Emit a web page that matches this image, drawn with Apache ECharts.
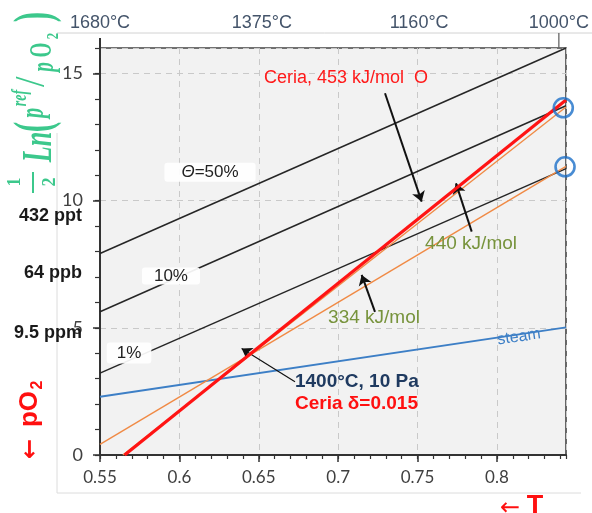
<!DOCTYPE html>
<html><head><meta charset="utf-8">
<script src="https://cdn.jsdelivr.net/npm/echarts@6/dist/echarts.min.js"></script>
<style>html,body{margin:0;padding:0;background:#fff;}#c{width:592px;height:513px;}</style>
</head><body><div id="c"></div>
<script>
// ---- data (x = scaled 1/T, y = 1/2 ln(pref/pO2)) ----
const X_MIN = 0.55, X_MAX = 0.8435, Y_MIN = 0, Y_MAX = 16;
const theta50 = [[0.55, 7.92], [0.8435, 16.0]];
const theta10 = [[0.55, 5.63], [0.8435, 13.73]];
const theta1  = [[0.55, 3.22], [0.8435, 11.26]];
const ceria453 = [[0.5655, 0], [0.8435, 13.96]];
const fit440 = [[0.5644, 0], [0.8435, 13.68]];
const fit334 = [[0.55, 0.42], [0.8435, 11.35]];
const steam = [[0.55, 2.29], [0.8435, 5.02]];
const circlePts = [[0.8418, 13.65], [0.8429, 11.33]];
const topTickLabels = ['1680°C', '1375°C', '1160°C', '1000°C'];
const topTickValues = [0.55, 0.652, 0.751, 0.839];
const pO2Labels = ['432 ppt', '64 ppb', '9.5 ppm'];
const pO2Values = [9.39, 7.15, 4.8];

// ---- annotations ----
const arrows = [
  { from: [0.7295, 14.22], to: [0.7526, 9.96], w: 2 },
  { from: [0.7841, 8.78], to: [0.7742, 10.68], w: 2 },
  { from: [0.7232, 5.63], to: [0.7148, 7.08], w: 2 },
  { from: [0.6728, 2.88], to: [0.6392, 4.19], w: 1.2 }
];

const SANS = '"Liberation Sans", Arial, sans-serif';
const ARROWF = '"DejaVu Sans", sans-serif';
const chart = echarts.init(document.getElementById('c'), null, { renderer: 'canvas' });

function lineSeries(name, data, color, width, z) {
  return { name, type: 'line', data, showSymbol: false, silent: true, z: z,
    lineStyle: { color, width }, itemStyle: { color }, animation: false, clip: true };
}

const series = [
  lineSeries('50%', theta50, '#262626', 1.5, 2),
  lineSeries('10%', theta10, '#262626', 1.5, 2),
  lineSeries('1%', theta1, '#262626', 1.5, 2),
  lineSeries('steam', steam, '#3d7fc6', 1.8, 3),
  lineSeries('334', fit334, '#f08a45', 1.4, 4),
  lineSeries('440', fit440, '#f08a45', 1.4, 4),
  Object.assign(lineSeries('ceria', ceria453, '#ff1414', 3.2, 5), {
    markLine: {
      silent: true, animation: false, symbol: ['none', 'arrow'], symbolSize: 10,
      label: { show: false },
      data: arrows.map(a => [
        { coord: a.from, lineStyle: { color: '#111', width: a.w, type: 'solid' } },
        { coord: a.to }
      ])
    }
  }),
  { type: 'scatter', data: circlePts, symbol: 'circle', symbolSize: 19, silent: true, z: 6,
    itemStyle: { color: 'rgba(0,0,0,0)', borderColor: '#1c6fc8', borderWidth: 2.6 }, animation: false }
];

const fmt5 = v => (Math.abs(v / 5 - Math.round(v / 5)) < 1e-6 ? String(v) : '');
const fmtX = v => (Math.abs(v / 0.05 - Math.round(v / 0.05)) < 1e-6 ? String(+v.toFixed(2)) : '');

chart.setOption({
  animation: false,
  grid: { left: 100, right: 26, top: 48, bottom: 58, show: true, backgroundColor: '#f2f2f2',
    borderColor: '#444', borderWidth: 1.6, outerBoundsMode: 'none' },
  xAxis: [
    { type: 'value', min: X_MIN, max: X_MAX, interval: 0.05, position: 'bottom',
      axisLine: { lineStyle: { color: '#333', width: 2 } },
      axisTick: { length: 7, lineStyle: { color: '#333', width: 1.5 } },
      splitLine: { show: true, lineStyle: { color: '#c9c9c9', type: [6, 5], width: 1 } },
      axisLabel: { formatter: fmtX, fontSize: 17, color: '#404040', fontFamily: 'Lato', margin: 14, showMaxLabel: false } },
    { type: 'value', min: X_MIN, max: X_MAX, interval: 0.01, position: 'bottom',
      axisLine: { show: false }, axisTick: { length: 4, lineStyle: { color: '#333', width: 1.2 } },
      splitLine: { show: false }, axisLabel: { show: false } }
  ],
  yAxis: [
    { type: 'value', min: Y_MIN, max: Y_MAX, interval: 5, position: 'left',
      axisLine: { show: true, lineStyle: { color: '#333', width: 2 } },
      axisTick: { show: true, length: 7, lineStyle: { color: '#333', width: 1.5 } },
      splitLine: { show: true, lineStyle: { color: '#c9c9c9', type: [6, 5], width: 1 } },
      axisLabel: { formatter: fmt5, fontSize: 18, color: '#404040', fontFamily: 'Lato', margin: 17, showMaxLabel: false } },
    { type: 'value', min: Y_MIN, max: Y_MAX, interval: 1, position: 'left',
      axisLine: { show: false }, axisTick: { show: true, length: 5, lineStyle: { color: '#333', width: 1.2 } },
      splitLine: { show: false }, axisLabel: { show: false } }
  ],
  series
});

function px(pt) { return chart.convertToPixel({ seriesIndex: 0 }, pt); }

const G = '#3cc88c';
const RED = '#ff1010';
function rot(text, x, y, font, fill, sx) {
  return { type: 'text', x, y, rotation: Math.PI / 2, scaleX: sx || 1, z: 100,
    style: { text, font, fill, align: 'center', verticalAlign: 'middle' } };
}
function txt(text, pt, font, fill, extra) {
  const p = px(pt);
  return { type: 'text', x: p[0], y: p[1], z: 100,
    style: Object.assign({ text, font, fill, align: 'center', verticalAlign: 'middle' }, extra || {}) };
}

const graphics = [];
// frame lines of the figure
graphics.push({ type: 'line', shape: { x1: 57, y1: 33, x2: 592, y2: 33 }, style: { stroke: '#d2d2d2', lineWidth: 1 }, z: 1 });
graphics.push({ type: 'line', shape: { x1: 57, y1: 133, x2: 57, y2: 493 }, style: { stroke: '#dcdcdc', lineWidth: 1 }, z: 1 });
graphics.push({ type: 'line', shape: { x1: 57, y1: 493, x2: 581, y2: 493 }, style: { stroke: '#dcdcdc', lineWidth: 1 }, z: 1 });
// top temperature axis
topTickLabels.forEach((t, i) => {
  const x = px([topTickValues[i], Y_MAX])[0];
  graphics.push({ type: 'text', x, y: 32, z: 100,
    style: { text: t, font: '18px ' + SANS, fill: '#44546a', align: 'center', verticalAlign: 'bottom' } });
});
graphics.push({ type: 'line', shape: { x1: px([topTickValues[3], 0])[0], y1: 33, x2: px([topTickValues[3], 0])[0], y2: 48 }, style: { stroke: '#666', lineWidth: 1.3 }, z: 100 });
graphics.push({ type: 'line', shape: { x1: 100, y1: 38, x2: 100, y2: 48 }, style: { stroke: '#333', lineWidth: 2 }, z: 100 });
// pO2 labels at left
pO2Labels.forEach((t, i) => {
  const y = px([X_MIN, pO2Values[i]])[1];
  graphics.push({ type: 'text', x: 82, y, z: 100,
    style: { text: t, font: 'bold 18px ' + SANS, fill: '#1a1a1a', align: 'right', verticalAlign: 'middle' } });
});
// y-axis title 1/2 Ln(pref/pO2) rotated
const SERIF = '"Liberation Serif", "DejaVu Serif", serif';
graphics.push(rot('1', 15, 182, 'bold 18px ' + SERIF, G, 1));
graphics.push(rot('2', 50, 182, 'bold 18px ' + SERIF, G, 1));
graphics.push({ type: 'line', shape: { x1: 33, y1: 172, x2: 33, y2: 193 }, style: { stroke: G, lineWidth: 2 }, z: 100 });
graphics.push(rot('Ln', 40, 147, 'italic bold 42px ' + SERIF, G, 0.62));
graphics.push(rot('(', 37, 127, 'bold 52px ' + SERIF, G, 0.6));
graphics.push(rot('p', 34, 113, 'italic bold 34px ' + SERIF, G, 0.6));
graphics.push(rot('ref', 21, 98, 'italic bold 20px ' + SERIF, G, 0.7));
graphics.push(rot('/', 33, 82, 'italic bold 42px ' + SERIF, G, 0.6));
graphics.push(rot('p', 45, 67, 'italic bold 32px ' + SERIF, G, 0.6));
graphics.push(rot('O', 43, 50, 'bold 32px ' + SERIF, G, 0.6));
graphics.push(rot('2', 54, 36, 'bold 16px ' + SERIF, G, 0.8));
graphics.push(rot(')', 37, 17, 'bold 52px ' + SERIF, G, 0.6));
// ← pO2 (rotated, red)
graphics.push(rot('←', 31, 449, 'bold 24px ' + ARROWF, RED, 1));
graphics.push(rot('pO', 30, 409, 'bold 26px ' + SANS, RED, 1));
graphics.push(rot('2', 38, 385, 'bold 16px ' + SANS, RED, 1));
// ← T
graphics.push({ type: 'text', x: 510, y: 509, z: 100, style: { text: '←', font: '24px ' + ARROWF, fill: RED, align: 'center', verticalAlign: 'middle' } });
graphics.push({ type: 'text', x: 535, y: 507, z: 100, style: { text: 'T', font: 'bold 27px ' + SANS, fill: RED, align: 'center', verticalAlign: 'middle' } });

// in-plot annotations (anchored in data coordinates)
const boxStyle = { backgroundColor: 'rgba(255,255,255,0.92)', borderRadius: 3 };
graphics.push(txt('{i|Θ}=50%', [0.6193, 11.12], '17px ' + SANS, '#222',
  Object.assign({ padding: [1, 17, 1, 17], rich: { i: { font: 'italic 17px ' + SANS, fill: '#222' } } }, boxStyle)));
graphics.push(txt('10%', [0.5947, 7.04], '17px ' + SANS, '#222', Object.assign({ padding: [0, 12, 0, 12] }, boxStyle)));
graphics.push(txt('1%', [0.5683, 4.01], '17px ' + SANS, '#222', Object.assign({ padding: [2, 10, 2, 10] }, boxStyle)));
graphics.push(txt('Ceria, 453 kJ/mol  O', [0.7049, 14.82], '18px ' + SANS, '#ff1a1a'));
graphics.push(txt('440 kJ/mol', [0.7837, 8.29], '19px ' + SANS, '#77933c'));
graphics.push(txt('334 kJ/mol', [0.7226, 5.39], '19px ' + SANS, '#77933c'));
graphics.push(txt('1400°C, 10 Pa', [0.6728, 2.88], 'bold 19px ' + SANS, '#1f3a60', { align: 'left' }));
graphics.push(txt('Ceria δ=0.015', [0.6728, 2.0], 'bold 19px ' + SANS, RED, { align: 'left' }));
(function () {
  const p = px([0.8139, 4.64]);
  graphics.push({ type: 'text', x: p[0], y: p[1], rotation: 0.147, z: 100,
    style: { text: 'steam', font: '16px ' + SANS, fill: '#3d7fc6', align: 'center', verticalAlign: 'middle' } });
})();

chart.setOption({ graphic: graphics });
</script></body></html>
